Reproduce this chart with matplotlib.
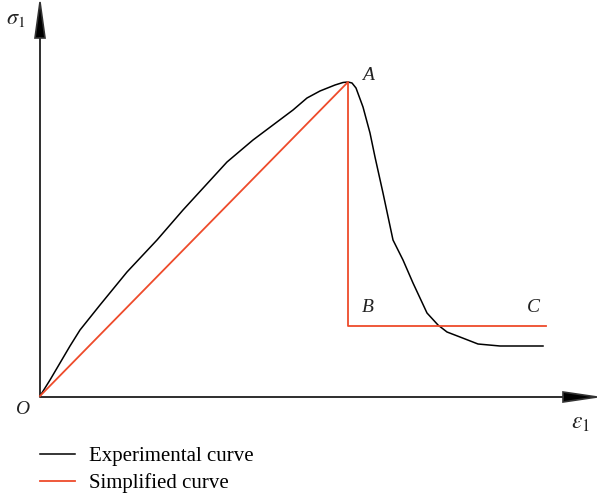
import numpy as np
import matplotlib.pyplot as plt

plt.rcParams['font.family'] = ['Liberation Serif', 'DejaVu Serif']
plt.rcParams['mathtext.fontset'] = 'stix'

# experimental stress-strain curve (arbitrary units)
exp_eps = [0.00, 0.10, 0.20, 0.30, 0.40, 0.60, 0.87, 1.17, 1.43, 1.65, 1.87, 2.13,
           2.37, 2.53, 2.67, 2.80, 2.95, 3.03, 3.08, 3.12, 3.16, 3.23, 3.30, 3.35,
           3.43, 3.53, 3.63, 3.73, 3.87, 3.98, 4.07, 4.20, 4.38, 4.60, 5.03]
exp_sig = [0.00, 0.16, 0.33, 0.50, 0.66, 0.91, 1.24, 1.56, 1.86, 2.10, 2.34, 2.56,
           2.74, 2.86, 2.98, 3.05, 3.11, 3.135, 3.14, 3.13, 3.08, 2.89, 2.63, 2.39,
           2.03, 1.56, 1.36, 1.13, 0.83, 0.71, 0.64, 0.59, 0.52, 0.50, 0.50]

# simplified curve O-A-B-C
simp_eps = [0.00, 3.08, 3.08, 5.06]
simp_sig = [0.00, 3.14, 0.70, 0.70]

fig = plt.figure(figsize=(5.97, 4.96), dpi=100)
ax = fig.add_axes([0, 0, 1, 1])
ax.set_xlim(-0.40, 5.57)
ax.set_ylim(-1.00, 3.96)
ax.axis('off')

# axes with arrow heads
ax.arrow(0, 0, 0, 3.94, head_width=0.10, head_length=0.36, length_includes_head=True,
         lw=1.2, fc='black', ec='#333333')
ax.arrow(0, -0.01, 5.57, 0, head_width=0.10, head_length=0.34, length_includes_head=True,
         lw=1.2, fc='black', ec='#333333')

ax.plot(exp_eps, exp_sig, color='black', lw=1.1, solid_joinstyle='round',
        label='Experimental curve')
ax.plot(simp_eps, simp_sig, color='#EE4B2B', lw=1.3, label='Simplified curve')

lab = dict(fontsize=14, style='italic', color='#222222')
ax.text(-0.18, -0.14, 'O', ha='center', va='center', **lab)
ax.text(3.28, 3.20, 'A', ha='center', va='center', **lab)
ax.text(3.28, 0.88, 'B', ha='center', va='center', **lab)
ax.text(4.93, 0.88, 'C', ha='center', va='center', **lab)
ax.text(-0.24, 3.76, r'$\sigma_1$', ha='center', va='center', fontsize=16, color='#222222')
ax.text(5.41, -0.27, r'$\varepsilon_1$', ha='center', va='center', fontsize=17, color='#222222')

ax.legend(loc='upper left', bbox_to_anchor=(0.053, 0.117), frameon=False, fontsize=15,
          handlelength=1.68, handletextpad=0.67, labelspacing=0.35, borderaxespad=0)

fig.savefig('out.png', dpi=100)
